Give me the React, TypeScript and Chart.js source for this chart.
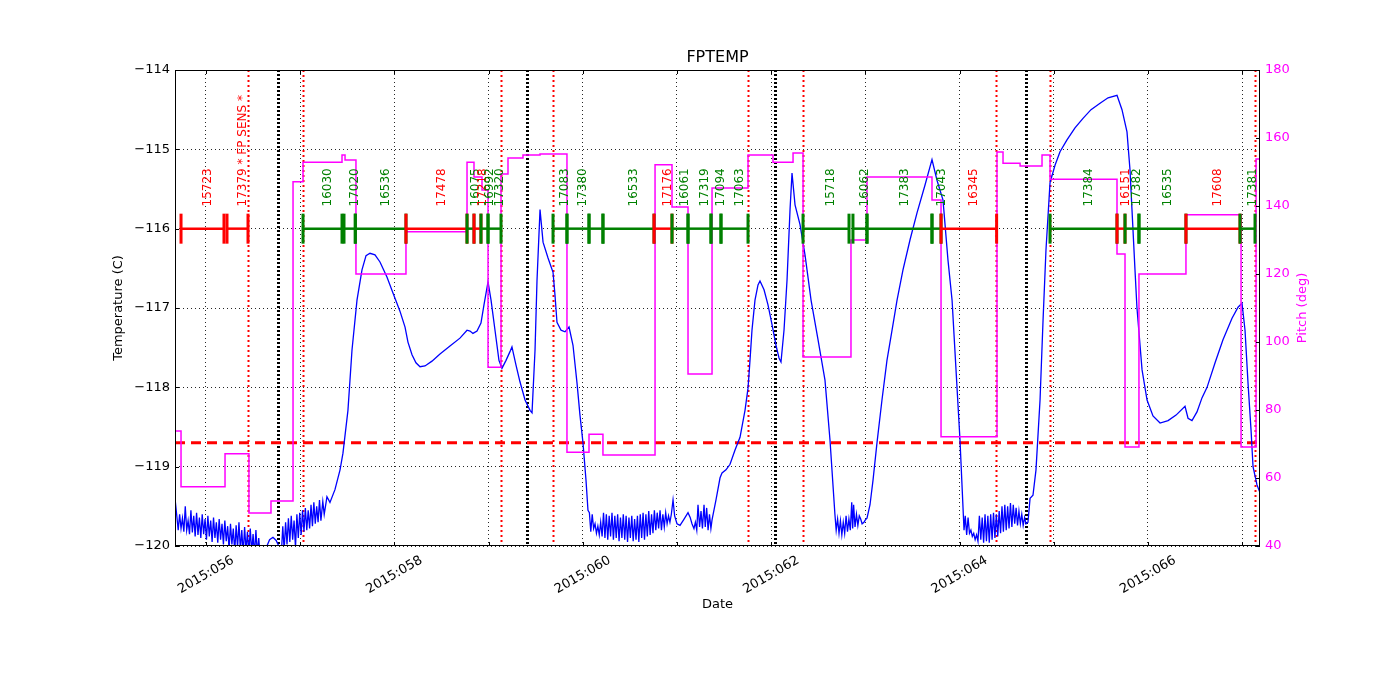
import { useEffect, useRef } from 'react';
import { Chart, registerables } from 'chart.js';

Chart.register(...registerables);

const FONT = 'DejaVu Sans';

// ---- axis ranges ----
const X_MIN = 55.671;
const X_MAX = 67.189;
const TEMP_MIN = -120;
const TEMP_MAX = -114;
const PITCH_MIN = 40;
const PITCH_MAX = 180;
const TEMP_LIMIT = -118.7;
const OBSID_LEVEL = -116;
const OBSID_LABEL_LEVEL = -115.72;

// ---- FPTEMP telemetry [day of 2015, temperature C] ----
const TEMP_SERIES: [number, number][] = [
  [55.671, -119.40], [55.690, -119.62], [55.705, -119.80], [55.720, -119.60], [55.735, -119.78],
  [55.750, -119.65], [55.765, -119.82], [55.780, -119.50], [55.795, -119.80], [55.810, -119.68],
  [55.825, -119.85], [55.840, -119.55], [55.855, -119.83], [55.870, -119.62], [55.885, -119.88],
  [55.900, -119.58], [55.915, -119.86], [55.930, -119.64], [55.945, -119.90], [55.960, -119.60],
  [55.975, -119.85], [55.990, -119.66], [56.005, -119.92], [56.020, -119.62], [56.035, -119.88],
  [56.050, -119.68], [56.065, -119.95], [56.080, -119.64], [56.095, -119.90], [56.110, -119.70],
  [56.125, -119.96], [56.140, -119.66], [56.155, -119.92], [56.170, -119.72], [56.185, -119.98],
  [56.200, -119.68], [56.215, -119.94], [56.230, -119.75], [56.245, -120.05], [56.260, -119.72],
  [56.275, -119.98], [56.290, -119.78], [56.305, -120.08], [56.320, -119.74], [56.335, -120.02],
  [56.350, -119.70], [56.365, -120.05], [56.380, -119.80], [56.395, -120.10], [56.410, -119.76],
  [56.425, -120.06], [56.440, -119.82], [56.455, -120.10], [56.470, -119.78], [56.485, -120.08],
  [56.500, -119.85], [56.515, -120.12], [56.530, -119.80], [56.545, -120.10], [56.560, -119.90],
  [56.575, -120.15], [56.600, -120.15], [56.640, -120.02], [56.675, -119.92], [56.711, -119.89],
  [56.745, -119.93], [56.780, -120.02], [56.800, -120.10], [56.815, -119.75], [56.830, -120.05],
  [56.845, -119.70], [56.860, -119.98], [56.875, -119.65], [56.890, -119.95], [56.905, -119.62],
  [56.920, -119.92], [56.935, -119.68], [56.950, -120.02], [56.965, -119.60], [56.980, -119.90],
  [56.995, -119.58], [57.010, -119.86], [57.025, -119.55], [57.040, -119.82], [57.055, -119.52],
  [57.070, -119.80], [57.085, -119.55], [57.100, -119.78], [57.115, -119.48], [57.130, -119.75],
  [57.145, -119.45], [57.160, -119.72], [57.175, -119.50], [57.190, -119.70], [57.205, -119.42],
  [57.220, -119.68], [57.240, -119.44], [57.255, -119.60], [57.284, -119.38], [57.316, -119.45],
  [57.369, -119.29], [57.423, -119.04], [57.454, -118.83], [57.507, -118.29], [57.550, -117.53],
  [57.603, -116.90], [57.656, -116.52], [57.699, -116.34], [57.741, -116.31], [57.794, -116.33],
  [57.847, -116.42], [57.921, -116.61], [57.985, -116.81], [58.059, -117.04], [58.113, -117.24],
  [58.144, -117.43], [58.187, -117.59], [58.229, -117.69], [58.272, -117.74], [58.325, -117.73],
  [58.399, -117.67], [58.484, -117.58], [58.590, -117.48], [58.696, -117.38], [58.771, -117.28],
  [58.803, -117.29], [58.834, -117.32], [58.877, -117.29], [58.919, -117.19], [58.951, -116.96],
  [58.994, -116.67], [59.026, -116.90], [59.068, -117.28], [59.110, -117.66], [59.142, -117.76],
  [59.185, -117.66], [59.227, -117.55], [59.248, -117.49], [59.291, -117.72], [59.333, -117.93],
  [59.387, -118.16], [59.440, -118.29], [59.461, -118.32], [59.493, -117.53], [59.514, -116.65],
  [59.546, -115.76], [59.578, -116.17], [59.631, -116.37], [59.684, -116.55], [59.705, -116.84],
  [59.726, -117.18], [59.769, -117.28], [59.811, -117.30], [59.854, -117.24], [59.896, -117.47],
  [59.939, -117.95], [59.970, -118.35], [60.002, -118.70], [60.034, -119.17], [60.055, -119.55],
  [60.070, -119.58], [60.085, -119.82], [60.100, -119.60], [60.115, -119.78], [60.130, -119.72],
  [60.145, -119.84], [60.160, -119.75], [60.175, -119.86], [60.190, -119.70], [60.205, -119.88],
  [60.220, -119.58], [60.235, -119.90], [60.250, -119.60], [60.265, -119.92], [60.280, -119.62],
  [60.295, -119.88], [60.310, -119.58], [60.325, -119.92], [60.340, -119.62], [60.355, -119.90],
  [60.370, -119.60], [60.385, -119.94], [60.400, -119.64], [60.415, -119.90], [60.430, -119.60],
  [60.445, -119.92], [60.460, -119.62], [60.475, -119.95], [60.490, -119.64], [60.505, -119.90],
  [60.520, -119.62], [60.535, -119.94], [60.550, -119.66], [60.565, -119.92], [60.580, -119.62],
  [60.595, -119.95], [60.610, -119.60], [60.625, -119.90], [60.640, -119.58], [60.655, -119.92],
  [60.670, -119.60], [60.685, -119.88], [60.700, -119.56], [60.715, -119.86], [60.730, -119.60],
  [60.745, -119.84], [60.760, -119.55], [60.775, -119.80], [60.790, -119.58], [60.805, -119.78],
  [60.820, -119.55], [60.835, -119.80], [60.850, -119.60], [60.865, -119.76], [60.880, -119.58],
  [60.895, -119.72], [60.910, -119.62], [60.925, -119.70], [60.940, -119.60], [60.958, -119.42],
  [60.975, -119.62], [61.000, -119.72], [61.032, -119.74], [61.070, -119.67], [61.117, -119.58],
  [61.140, -119.64], [61.159, -119.72], [61.180, -119.78], [61.195, -119.70], [61.210, -119.80],
  [61.223, -119.48], [61.240, -119.76], [61.255, -119.56], [61.270, -119.78], [61.287, -119.48],
  [61.300, -119.76], [61.315, -119.52], [61.330, -119.80], [61.345, -119.60], [61.360, -119.78],
  [61.372, -119.67], [61.414, -119.42], [61.457, -119.14], [61.478, -119.08], [61.520, -119.04],
  [61.563, -118.97], [61.616, -118.79], [61.669, -118.63], [61.722, -118.29], [61.754, -118.01],
  [61.775, -117.66], [61.796, -117.28], [61.828, -116.90], [61.860, -116.71], [61.881, -116.66],
  [61.924, -116.77], [61.966, -116.96], [62.009, -117.21], [62.051, -117.47], [62.083, -117.63],
  [62.104, -117.68], [62.136, -117.28], [62.168, -116.65], [62.200, -115.76], [62.221, -115.30],
  [62.253, -115.70], [62.306, -115.95], [62.359, -116.33], [62.423, -116.90], [62.497, -117.40],
  [62.571, -117.91], [62.624, -118.66], [62.677, -119.61], [62.690, -119.80], [62.705, -119.66],
  [62.720, -119.84], [62.735, -119.68], [62.750, -119.86], [62.765, -119.70], [62.780, -119.84],
  [62.795, -119.62], [62.810, -119.82], [62.825, -119.66], [62.840, -119.80], [62.855, -119.45],
  [62.865, -119.78], [62.875, -119.48], [62.890, -119.76], [62.905, -119.60], [62.920, -119.74],
  [62.935, -119.62], [62.950, -119.66], [62.965, -119.72], [62.985, -119.70], [63.000, -119.67],
  [63.017, -119.65], [63.049, -119.48], [63.081, -119.17], [63.123, -118.70], [63.176, -118.16],
  [63.229, -117.66], [63.283, -117.28], [63.336, -116.90], [63.399, -116.52], [63.474, -116.14],
  [63.548, -115.80], [63.633, -115.45], [63.707, -115.13], [63.760, -115.39], [63.824, -115.64],
  [63.877, -116.40], [63.920, -116.90], [63.962, -117.78], [64.004, -118.66], [64.047, -119.80],
  [64.060, -119.62], [64.075, -119.86], [64.090, -119.64], [64.105, -119.84], [64.120, -119.80],
  [64.135, -119.88], [64.150, -119.84], [64.165, -119.92], [64.180, -119.86], [64.195, -119.94],
  [64.210, -119.62], [64.225, -119.92], [64.240, -119.64], [64.255, -119.96], [64.270, -119.60],
  [64.285, -119.94], [64.300, -119.62], [64.315, -119.96], [64.330, -119.60], [64.345, -119.92],
  [64.360, -119.58], [64.375, -119.90], [64.390, -119.60], [64.405, -119.88], [64.420, -119.56],
  [64.435, -119.84], [64.450, -119.50], [64.465, -119.82], [64.480, -119.48], [64.495, -119.80],
  [64.510, -119.50], [64.525, -119.78], [64.540, -119.46], [64.555, -119.76], [64.570, -119.48],
  [64.585, -119.72], [64.600, -119.52], [64.615, -119.74], [64.630, -119.56], [64.645, -119.72],
  [64.660, -119.60], [64.675, -119.74], [64.690, -119.64], [64.705, -119.72], [64.726, -119.70],
  [64.748, -119.40], [64.779, -119.36], [64.811, -119.04], [64.854, -118.16], [64.886, -117.15],
  [64.917, -116.27], [64.960, -115.42], [65.013, -115.20], [65.066, -115.03], [65.140, -114.88],
  [65.225, -114.73], [65.310, -114.61], [65.395, -114.50], [65.491, -114.42], [65.576, -114.35],
  [65.671, -114.32], [65.724, -114.50], [65.777, -114.78], [65.809, -115.26], [65.830, -115.76],
  [65.862, -116.52], [65.883, -117.00], [65.937, -117.78], [65.990, -118.16], [66.053, -118.36],
  [66.128, -118.45], [66.213, -118.42], [66.298, -118.35], [66.393, -118.24], [66.425, -118.39],
  [66.467, -118.42], [66.520, -118.31], [66.574, -118.13], [66.627, -118.00], [66.712, -117.69],
  [66.796, -117.40], [66.892, -117.13], [66.956, -116.99], [66.998, -116.94], [67.030, -117.28],
  [67.062, -117.95], [67.094, -118.54], [67.115, -119.00], [67.157, -119.23], [67.189, -119.33],
];

// ---- spacecraft pitch: each value holds from its day until the next ----
const PITCH_DAYS = [
  55.671, 55.735, 56.202, 56.456, 56.690, 56.924, 57.030, 57.444, 57.476, 57.592,
  58.123, 58.771, 58.845, 58.930, 58.994, 59.132, 59.206, 59.365, 59.546, 59.832,
  60.066, 60.214, 60.767, 60.947, 61.117, 61.372, 61.754, 62.019, 62.232, 62.338,
  62.847, 63.017, 63.707, 63.803, 64.397, 64.461, 64.642, 64.875, 64.960, 65.671,
  65.756, 65.904, 66.403, 66.988, 67.147, 67.189,
];
const PITCH_DEG = [
  73.8, 57.4, 67.1, 49.7, 53.2, 147.1, 152.9, 155.0, 153.5, 120.0,
  132.4, 152.9, 148.5, 144.7, 92.6, 149.4, 154.1, 155.0, 155.3, 67.6,
  72.9, 66.8, 152.1, 139.7, 90.6, 145.3, 155.0, 152.9, 155.6, 95.6,
  130.0, 148.5, 141.8, 72.1, 155.9, 152.6, 151.8, 155.0, 147.9, 125.9,
  69.1, 120.0, 137.4, 69.1, 153.8, 153.8,
];

// ---- observations (obsids) ----
const OBSID_IDS = [
  '15723', '17379 * FP SENS *', '16030', '17020', '16536', '17478', '16075', '17218',
  '16992', '17320', '17083', '17380', '', '16533', '17176', '16061', '17319', '17094',
  '17063', '15718', '16062', '17383', '17043', '16345', '17384', '16151', '17382',
  '16535', '17608', '17381',
];
const OBSID_START = [
  55.735, 56.223, 57.030, 57.465, 57.585, 58.123, 58.771, 58.845,
  58.919, 58.994, 59.684, 59.832, 60.066, 60.214, 60.756, 60.947, 61.117, 61.361,
  61.467, 62.338, 62.868, 63.017, 63.707, 63.803, 64.960, 65.671, 65.756,
  65.904, 66.403, 66.977,
];
const OBSID_STOP = [
  56.191, 56.446, 57.444, 57.585, 58.123, 58.771, 58.845, 58.919,
  58.994, 59.132, 59.832, 60.066, 60.214, 60.756, 60.947, 61.117, 61.361, 61.467,
  61.754, 62.826, 63.017, 63.707, 63.803, 64.393, 65.671, 65.756, 65.904,
  66.403, 66.977, 67.136,
];
const OBSID_WARM = [
  true, true, false, false, false, true, false, true,
  false, false, false, false, false, false, true, false, false, false,
  false, false, false, false, false, true, false, true, false,
  false, true, false,
];

// ---- radiation zone edges and perigee times ----
const RADZONE_EDGES = [56.446, 57.030, 59.132, 59.684, 61.754, 62.338, 64.386, 64.960, 67.136];
const PERIGEE_DAYS = [56.764, 59.408, 62.040, 64.705];

// ---- styles ----
const BLUE = '#0000ff';
const MAGENTA = '#ff00ff';
const RED = '#ff0000';
const GREEN = '#008000';

function strokeLine(
  ctx: CanvasRenderingContext2D,
  x1: number, y1: number, x2: number, y2: number,
  color: string, width: number, dash: number[] = [],
) {
  ctx.save();
  ctx.strokeStyle = color;
  ctx.lineWidth = width;
  ctx.setLineDash(dash);
  ctx.beginPath();
  ctx.moveTo(x1, y1);
  ctx.lineTo(x2, y2);
  ctx.stroke();
  ctx.restore();
}

const overlayPlugin = {
  id: 'fptempOverlay',
  beforeDatasetsDraw(chart: any) {
    const { ctx, chartArea: a, scales } = chart;
    const xs = scales.x;
    const ys = scales.y;
    ctx.save();
    ctx.beginPath();
    ctx.rect(a.left, a.top, a.right - a.left, a.bottom - a.top);
    ctx.clip();
    RADZONE_EDGES.forEach((d) => {
      const px = Math.round(xs.getPixelForValue(d)) + 0.5;
      strokeLine(ctx, px, a.top, px, a.bottom, RED, 2, [2, 3]);
    });
    PERIGEE_DAYS.forEach((d) => {
      const px = Math.round(xs.getPixelForValue(d)) + 0.5;
      strokeLine(ctx, px, a.top, px, a.bottom, '#000000', 3, [2, 2]);
    });
    const ly = ys.getPixelForValue(TEMP_LIMIT);
    strokeLine(ctx, a.left, ly, a.right, ly, RED, 3, [10, 6]);
    ctx.restore();
  },
  afterDatasetsDraw(chart: any) {
    const { ctx, chartArea: a, scales } = chart;
    const xs = scales.x;
    const ys = scales.y;
    const by = ys.getPixelForValue(OBSID_LEVEL);
    const ty = ys.getPixelForValue(OBSID_LABEL_LEVEL);
    ctx.save();
    ctx.beginPath();
    ctx.rect(a.left, a.top, a.right - a.left, a.bottom - a.top);
    ctx.clip();
    OBSID_IDS.forEach((id, i) => {
      const color = OBSID_WARM[i] ? RED : GREEN;
      const x1 = xs.getPixelForValue(OBSID_START[i]);
      const x2 = xs.getPixelForValue(OBSID_STOP[i]);
      strokeLine(ctx, x1, by, x2, by, color, 2.5);
      strokeLine(ctx, x1, by - 15, x1, by + 15, color, 3);
      strokeLine(ctx, x2, by - 15, x2, by + 15, color, 3);
      if (id) {
        const mx = xs.getPixelForValue((OBSID_START[i] + OBSID_STOP[i]) / 2) + 5;
        ctx.save();
        ctx.translate(mx, ty);
        ctx.rotate(-Math.PI / 2);
        ctx.fillStyle = color;
        ctx.font = `12px "${FONT}"`;
        ctx.textAlign = 'left';
        ctx.textBaseline = 'middle';
        ctx.fillText(id, 0, 0);
        ctx.restore();
      }
    });
    ctx.restore();
  },
  afterDraw(chart: any) {
    const { ctx, chartArea: a, scales } = chart;
    const xs = scales.x;
    const ys = scales.y;
    const y2 = scales.y2;
    // inward tick marks
    xs.ticks.forEach((t: any) => {
      const px = Math.round(xs.getPixelForValue(t.value)) + 0.5;
      strokeLine(ctx, px, a.bottom, px, a.bottom - 4, '#000', 1);
      strokeLine(ctx, px, a.top, px, a.top + 4, '#000', 1);
    });
    ys.ticks.forEach((t: any) => {
      const py = Math.round(ys.getPixelForValue(t.value)) + 0.5;
      strokeLine(ctx, a.left, py, a.left + 4, py, '#000', 1);
    });
    y2.ticks.forEach((t: any) => {
      const py = Math.round(y2.getPixelForValue(t.value)) + 0.5;
      strokeLine(ctx, a.right, py, a.right - 4, py, '#000', 1);
    });
    // frame
    ctx.save();
    ctx.strokeStyle = '#000';
    ctx.lineWidth = 1;
    ctx.strokeRect(Math.round(a.left) + 0.5, Math.round(a.top) + 0.5,
      Math.round(a.right - a.left) - 1, Math.round(a.bottom - a.top) - 1);
    ctx.restore();
    // date tick labels (every other day, rotated 30 degrees, centred on tick)
    xs.ticks.forEach((t: any) => {
      const v = Math.round(t.value);
      if (v % 2 !== 0) return;
      const px = xs.getPixelForValue(t.value);
      ctx.save();
      ctx.translate(px, a.bottom + 29);
      ctx.rotate(-Math.PI / 6);
      ctx.fillStyle = '#000';
      ctx.font = `13px "${FONT}"`;
      ctx.textAlign = 'center';
      ctx.textBaseline = 'middle';
      ctx.fillText(`2015:${String(v).padStart(3, '0')}`, 0, 0);
      ctx.restore();
    });
    // right axis label, reading bottom to top
    ctx.save();
    ctx.translate(a.right + 43, (a.top + a.bottom) / 2);
    ctx.rotate(-Math.PI / 2);
    ctx.fillStyle = MAGENTA;
    ctx.font = `13px "${FONT}"`;
    ctx.textAlign = 'center';
    ctx.textBaseline = 'middle';
    ctx.fillText('Pitch (deg)', 0, 0);
    ctx.restore();
  },
};

export default function App() {
  const canvasRef = useRef<HTMLCanvasElement | null>(null);

  useEffect(() => {
    document.body.style.margin = '0';
    const canvas = canvasRef.current;
    if (!canvas) return;
    Chart.defaults.font.family = FONT;

    const minus = (v: any) => String(v).replace('-', '\u2212');

    const chart = new Chart(canvas, {
      type: 'line',
      data: {
        datasets: [
          {
            label: 'Pitch',
            data: PITCH_DAYS.map((d, i) => ({ x: d, y: PITCH_DEG[i] })),
            yAxisID: 'y2',
            borderColor: MAGENTA,
            borderWidth: 1.5,
            pointRadius: 0,
            stepped: true,
            fill: false,
          },
          {
            label: 'FPTEMP',
            data: TEMP_SERIES.map(([d, t]) => ({ x: d, y: t })),
            yAxisID: 'y',
            borderColor: BLUE,
            borderWidth: 1.3,
            pointRadius: 0,
            tension: 0,
            fill: false,
          },
        ],
      },
      options: {
        animation: false,
        responsive: false,
        maintainAspectRatio: false,
        events: [],
        layout: { padding: 0 },
        plugins: {
          legend: { display: false },
          tooltip: { enabled: false },
          title: {
            display: true,
            fullSize: false,
            text: 'FPTEMP',
            color: '#000',
            font: { size: 16, weight: 'normal', family: FONT },
            padding: { top: 48, bottom: 2.8 },
          },
        },
        scales: {
          x: {
            type: 'linear',
            min: X_MIN,
            max: X_MAX,
            ticks: { stepSize: 1, display: false, includeBounds: false },
            grid: { color: 'rgba(0,0,0,0.85)', lineWidth: 1, drawTicks: false },
            border: { display: false, dash: [1, 3] },
            title: {
              display: true,
              text: 'Date',
              color: '#000',
              font: { size: 13, family: FONT },
              padding: { top: 0, bottom: 88 },
            },
            afterFit: (s: any) => { s.height = 154; },
          },
          y: {
            type: 'linear',
            position: 'left',
            min: TEMP_MIN,
            max: TEMP_MAX,
            ticks: {
              stepSize: 1,
              color: '#000',
              font: { size: 13, family: FONT },
              padding: 5,
              callback: minus,
            },
            grid: { color: 'rgba(0,0,0,0.85)', lineWidth: 1, drawTicks: false },
            border: { display: false, dash: [1, 3] },
            title: {
              display: true,
              text: 'Temperature (C)',
              color: '#000',
              font: { size: 13, family: FONT },
              padding: { top: 111, bottom: 0 },
            },
            afterFit: (s: any) => { s.width = 175; },
          },
          y2: {
            type: 'linear',
            position: 'right',
            min: PITCH_MIN,
            max: PITCH_MAX,
            ticks: {
              stepSize: 20,
              color: MAGENTA,
              font: { size: 13, family: FONT },
              padding: 5,
            },
            grid: { display: false, drawTicks: false },
            border: { display: false },
            afterFit: (s: any) => { s.width = 140; },
          },
        },
      } as any,
      plugins: [overlayPlugin],
    });

    return () => chart.destroy();
  }, []);

  return (
    <div style={{ width: 1400, height: 700, background: '#fff' }}>
      <canvas ref={canvasRef} width={1400} height={700} style={{ width: 1400, height: 700, display: 'block' }} />
    </div>
  );
}
